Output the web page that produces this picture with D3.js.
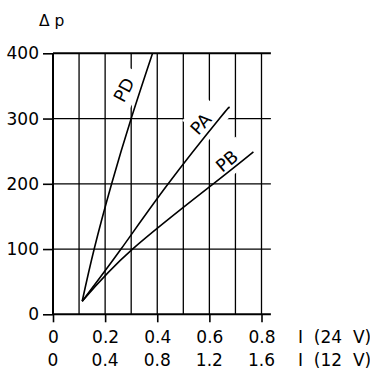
<!DOCTYPE html>
<html>
<head>
<meta charset="utf-8">
<script src="https://cdn.jsdelivr.net/npm/d3@7"></script>
<style>
  html, body { margin: 0; padding: 0; background: #fff; }
  svg { display: block; }
  text { font-family: "DejaVu Sans", sans-serif; fill: #000; }
</style>
</head>
<body>
<svg id="chart" width="370" height="372"></svg>
<script>
// Current ticks (24 V supply) and the matching 12 V current labels
const currentTicks24 = [0, 0.2, 0.4, 0.6, 0.8];
const currentLabels12 = ["0", "0.4", "0.8", "1.2", "1.6"];
// Pressure drop ticks
const pressureTicks = [0, 100, 200, 300, 400];
// Vertical grid positions (current, 24 V)
const currentGrid = [0.1, 0.2, 0.3, 0.4, 0.5, 0.6, 0.7, 0.8];

// Characteristic curves: [current (24 V), pressure drop]
const seriesNames = ["PD", "PA", "PB"];
const pdValues = [[0.112, 20], [0.158, 100], [0.225, 200], [0.300, 300], [0.382, 400]];
const paValues = [[0.112, 20], [0.261, 100], [0.442, 200], [0.639, 300], [0.674, 316]];
const pbValues = [[0.112, 20], [0.305, 100], [0.615, 200], [0.769, 249]];

const svg = d3.select("#chart");

const x = d3.scaleLinear().domain([0, 0.8]).range([53, 261.5]);
const y = d3.scaleLinear().domain([0, 400]).range([314.3, 53.3]);
const gridRight = x(0.836);

const ink = "#000";

// Horizontal grid lines (top and bottom heavier)
svg.append("g").selectAll("line")
  .data(pressureTicks)
  .join("line")
  .attr("x1", x(0)).attr("x2", gridRight)
  .attr("y1", d => y(d)).attr("y2", d => y(d))
  .attr("stroke", ink)
  .attr("stroke-width", d => (d === 0 || d === 400) ? 2 : 1.3);

// Vertical grid lines
svg.append("g").selectAll("line")
  .data(currentGrid)
  .join("line")
  .attr("x1", d => x(d)).attr("x2", d => x(d))
  .attr("y1", y(0)).attr("y2", y(400))
  .attr("stroke", ink)
  .attr("stroke-width", 1.3);

// Y axis line
svg.append("line")
  .attr("x1", x(0)).attr("x2", x(0))
  .attr("y1", y(0)).attr("y2", y(400))
  .attr("stroke", ink).attr("stroke-width", 2);

// Y axis ticks and labels
const yAxis = d3.axisLeft(y).tickValues(pressureTicks).tickSize(10).tickPadding(4);
const gy = svg.append("g").attr("transform", `translate(${x(0)},0)`).call(yAxis);
gy.select(".domain").remove();
gy.selectAll(".tick line").attr("stroke", ink).attr("stroke-width", 1.6);
gy.selectAll(".tick text")
  .attr("font-family", "DejaVu Sans, sans-serif")
  .attr("font-size", 17).attr("fill", ink);

// X axis ticks and labels (24 V row)
const xAxis = d3.axisBottom(x).tickValues(currentTicks24).tickSize(8).tickPadding(8.3)
  .tickFormat(d3.format(".1~f"));
const gx = svg.append("g").attr("transform", `translate(0,${y(0)})`).call(xAxis);
gx.select(".domain").remove();
gx.selectAll(".tick line").attr("stroke", ink).attr("stroke-width", 1.6);
gx.selectAll(".tick text")
  .attr("font-family", "DejaVu Sans, sans-serif")
  .attr("font-size", 17).attr("fill", ink);

// Second row: current at 12 V
svg.append("g").selectAll("text")
  .data(currentTicks24)
  .join("text")
  .attr("x", d => x(d))
  .attr("y", 366)
  .attr("text-anchor", "middle")
  .attr("font-size", 17)
  .text((d, i) => currentLabels12[i]);

// Axis captions
svg.append("text")
  .attr("x", 298).attr("y", 342.7)
  .attr("font-size", 17)
  .style("white-space", "pre")
  .text("I  (24  V)");
svg.append("text")
  .attr("x", 298).attr("y", 366)
  .attr("font-size", 17)
  .style("white-space", "pre")
  .text("I  (12  V)");
svg.append("text")
  .attr("x", 39).attr("y", 25.5)
  .attr("font-size", 15.5)
  .style("white-space", "pre")
  .text("Δ p");

// Curve labels: position (data coords), rotation, clearing box in label frame
const labelSpecs = [
  { name: "PD", at: [0.272, 344], angle: -62, box: [-15, -11, 22, 14] },
  { name: "PA", at: [0.567, 292], angle: -48, box: [-10, -16, 23, 17] },
  { name: "PB", at: [0.667, 235], angle: -40, box: [-10, -13, 22, 15] }
];

const labelGroups = svg.append("g").selectAll("g")
  .data(labelSpecs)
  .join("g")
  .attr("transform", d => `translate(${x(d.at[0])},${y(d.at[1])}) rotate(${d.angle})`);

labelGroups.append("rect")
  .attr("x", d => d.box[0]).attr("y", d => d.box[1])
  .attr("width", d => d.box[2] - d.box[0])
  .attr("height", d => d.box[3] - d.box[1])
  .attr("fill", "#fff");

// Curves
const line = d3.line()
  .x(d => x(d[0])).y(d => y(d[1]))
  .curve(d3.curveNatural);

const seriesValues = [pdValues, paValues, pbValues];
svg.append("g").selectAll("path")
  .data(seriesValues)
  .join("path")
  .attr("d", line)
  .attr("fill", "none")
  .attr("stroke", ink)
  .attr("stroke-width", 1.6)
  .attr("stroke-linejoin", "round");

labelGroups.append("text")
  .attr("text-anchor", "middle")
  .attr("dy", "0.36em")
  .attr("font-size", 17.5)
  .text(d => d.name);
</script>
</body>
</html>
